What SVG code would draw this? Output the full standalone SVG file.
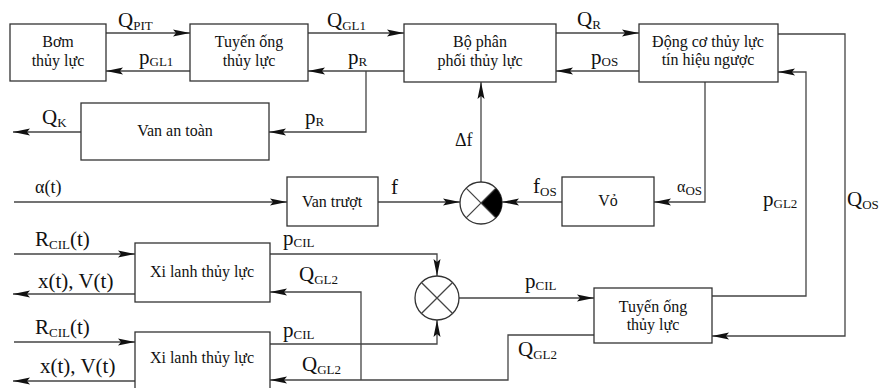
<svg xmlns="http://www.w3.org/2000/svg" width="882" height="388" viewBox="0 0 882 388">
<style>
.box{fill:#fff;stroke:#333;stroke-width:1.3}
.ln{fill:none;stroke:#444;stroke-width:1.3}
.ar{marker-end:url(#ah)}
.bt{font-family:"Liberation Serif","Times New Roman",serif;font-size:16px;fill:#111;text-anchor:middle}
.lb{font-family:"Liberation Serif","Times New Roman",serif;font-size:21px;fill:#111}
.sb{font-size:13px}
.cir{fill:#fff;stroke:#333;stroke-width:1.3}
</style>
<defs>
<marker id="ah" markerUnits="userSpaceOnUse" markerWidth="18" markerHeight="8" refX="17" refY="4" orient="auto">
<path d="M0,0.5 L17,4 L0,7.5 L3,4 Z" fill="#111"/>
</marker>
</defs>
<rect width="882" height="388" fill="#fff"/>

<g id="connectors">
<path class="ln ar" d="M106,33 H190"/>
<path class="ln ar" d="M190,71 H106"/>
<path class="ln ar" d="M308,33 H404"/>
<path class="ln ar" d="M404,71 H308"/>
<path class="ln ar" d="M366,71 V132 H269"/>
<path class="ln ar" d="M81,132 H13"/>
<path class="ln ar" d="M556,33 H639"/>
<path class="ln ar" d="M639,71 H556"/>
<path class="ln ar" d="M778,34 H845 V336 H712"/>
<path class="ln ar" d="M712,296 H806 V72 H778"/>
<path class="ln ar" d="M705,82 V202 H654"/>
<path class="ln ar" d="M562,202 H502"/>
<path class="ln ar" d="M481,182 V82"/>
<path class="ln ar" d="M14,202 H287"/>
<path class="ln ar" d="M378,202 H460"/>
<path class="ln ar" d="M14,254 H135"/>
<path class="ln ar" d="M135,294 H13"/>
<path class="ln ar" d="M270,254 H437 V276"/>
<path class="ln ar" d="M361,380 V292 H270"/>
<path class="ln ar" d="M14,342 H135"/>
<path class="ln ar" d="M135,381 H13"/>
<path class="ln ar" d="M270,344 H437 V320"/>
<path class="ln ar" d="M594,335 H508 V380 H270"/>
<path class="ln ar" d="M459,298 H594"/>
</g>

<g id="labels">
<text class="lb" x="118" y="27">Q<tspan class="sb" dy="3">PIT</tspan></text>
<text class="lb" x="139" y="64">p<tspan class="sb" dy="2">GL1</tspan></text>
<text class="lb" x="327" y="27">Q<tspan class="sb" dy="3">GL1</tspan></text>
<text class="lb" x="348" y="64">p<tspan class="sb" dy="2">R</tspan></text>
<text class="lb" x="305" y="124">p<tspan class="sb" dy="2">R</tspan></text>
<text class="lb" x="42" y="124">Q<tspan class="sb" dy="3">K</tspan></text>
<text class="lb" x="577" y="26">Q<tspan class="sb" dy="3">R</tspan></text>
<text class="lb" x="591" y="64">p<tspan class="sb" dy="2">OS</tspan></text>
<text class="lb" x="455" y="146" style="font-size:18px">Δf</text>
<text class="lb" x="35" y="193" style="font-size:18px">α(t)</text>
<text class="lb" x="391" y="194">f</text>
<text class="lb" x="533" y="193">f<tspan class="sb" dy="3">OS</tspan></text>
<text class="lb" x="677" y="192" style="font-size:16px">α<tspan class="sb" dy="3">OS</tspan></text>
<text class="lb" x="763" y="206">p<tspan class="sb" dy="2">GL2</tspan></text>
<text class="lb" x="847" y="206">Q<tspan class="sb" dy="3">OS</tspan></text>
<text class="lb" x="35" y="246">R<tspan class="sb" dy="3">CIL</tspan><tspan dy="-3">(t)</tspan></text>
<text class="lb" x="38" y="288">x(t), V(t)</text>
<text class="lb" x="283" y="245">p<tspan class="sb" dy="2">CIL</tspan></text>
<text class="lb" x="299" y="281">Q<tspan class="sb" dy="3">GL2</tspan></text>
<text class="lb" x="35" y="334">R<tspan class="sb" dy="3">CIL</tspan><tspan dy="-3">(t)</tspan></text>
<text class="lb" x="40" y="373">x(t), V(t)</text>
<text class="lb" x="283" y="337">p<tspan class="sb" dy="2">CIL</tspan></text>
<text class="lb" x="302" y="371">Q<tspan class="sb" dy="3">GL2</tspan></text>
<text class="lb" x="525" y="288">p<tspan class="sb" dy="2">CIL</tspan></text>
<text class="lb" x="518" y="356">Q<tspan class="sb" dy="3">GL2</tspan></text>
</g>

<g id="bom">
<rect class="box" x="10" y="24" width="96" height="57"/>
<text class="bt" x="58" y="47">Bơm</text>
<text class="bt" x="58" y="66">thủy lực</text>
</g>
<g id="tuyen-ong-1">
<rect class="box" x="190" y="24" width="118" height="57"/>
<text class="bt" x="249" y="47">Tuyến ống</text>
<text class="bt" x="249" y="66">thủy lực</text>
</g>
<g id="van-an-toan">
<rect class="box" x="81" y="103" width="188" height="57"/>
<text class="bt" x="175" y="136">Van an toàn</text>
</g>
<g id="bo-phan-phoi">
<rect class="box" x="404" y="24" width="152" height="58"/>
<text class="bt" x="480" y="47">Bộ phân</text>
<text class="bt" x="480" y="66">phối thủy lực</text>
</g>
<g id="dong-co">
<rect class="box" x="639" y="24" width="139" height="58"/>
<text class="bt" x="708" y="47">Động cơ thủy lực</text>
<text class="bt" x="708" y="65">tín hiệu ngược</text>
</g>
<g id="van-truot">
<rect class="box" x="287" y="177" width="91" height="49"/>
<text class="bt" x="332" y="207">Van trượt</text>
</g>
<g id="vo">
<rect class="box" x="562" y="177" width="92" height="49"/>
<text class="bt" x="608" y="206">Vỏ</text>
</g>
<g id="so-sanh-1">
<circle class="cir" cx="481" cy="203" r="21"/>
<path d="M481,203 L495.85,188.15 A21,21 0 0 1 495.85,217.85 Z" fill="#000"/>
<path class="ln" d="M466.15,188.15 L495.85,217.85 M466.15,217.85 L495.85,188.15"/>
</g>
<g id="xi-lanh-1">
<rect class="box" x="135" y="243" width="135" height="59"/>
<text class="bt" x="202" y="277">Xi lanh thủy lực</text>
</g>
<g id="xi-lanh-2">
<rect class="box" x="135" y="332" width="135" height="70"/>
<text class="bt" x="202" y="363">Xi lanh thủy lực</text>
</g>
<g id="so-sanh-2">
<circle class="cir" cx="437" cy="298" r="22"/>
<path class="ln" d="M421.44,282.44 L452.56,313.56 M421.44,313.56 L452.56,282.44"/>
</g>
<g id="tuyen-ong-2">
<rect class="box" x="594" y="288" width="118" height="55"/>
<text class="bt" x="653" y="312">Tuyến ống</text>
<text class="bt" x="653" y="330">thủy lực</text>
</g>
</svg>
